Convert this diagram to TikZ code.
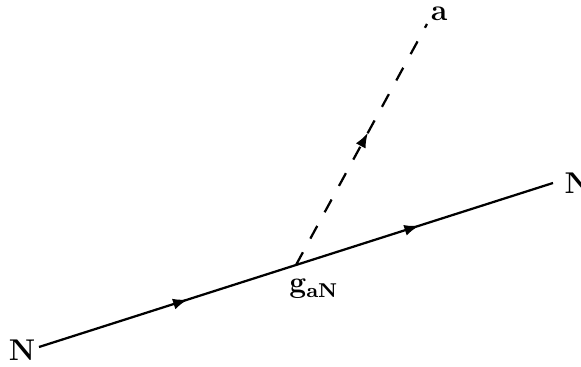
\documentclass[tikz,border=0pt]{standalone}
\usepackage{amsmath}
\usepackage{bm}
\usetikzlibrary{arrows.meta,decorations.markings}

\begin{document}
\begin{tikzpicture}[
  x=0.4pt, y=0.4pt,
  font=\large,
  lbl/.style={inner sep=0pt},
  fermion/.style={line width=0.9pt, postaction={decorate},
    decoration={markings, mark=at position #1 with {\arrow{Latex[length=6pt,width=4.4pt]}}}},
  scalar/.style={fermion=#1, dash pattern=on 5.8pt off 6.2pt}]
\useasboundingbox (0,0) rectangle (581,367);
\coordinate (pL) at (39,20);
\coordinate (v) at (296,102);
\coordinate (pR) at (553,184);
\coordinate (pA) at (427,343);
\node[lbl] (nL) at (22,17) {$\mathbf{N}$};
\node[lbl, anchor=west] (nR) at (564,184) {$\mathbf{N}$};
\node[lbl] (na) at (439,353) {$\mathbf{a}$};
\node[lbl] (ng) at (314,78) {$\mathbf{g}_{\mathbf{aN}}$};
\draw[fermion=0.58] (pL) -- (v);
\draw[fermion=0.48] (v) -- (pR);
\draw[scalar=0.55] (v) -- (pA);
\end{tikzpicture}
\end{document}
